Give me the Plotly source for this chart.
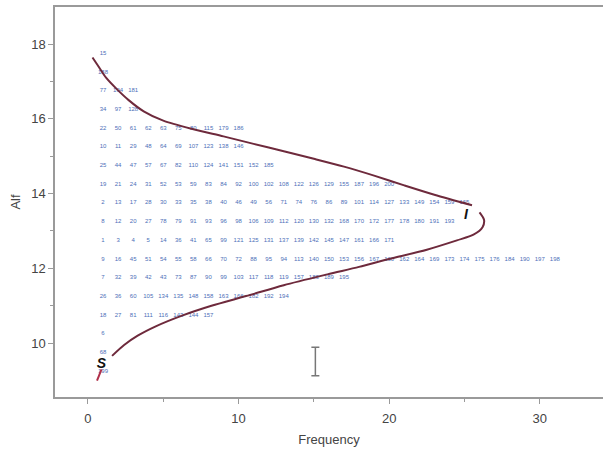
import plotly.graph_objects as go

# Bin centres of "Alf" (bin width 0.5) and the observation IDs stacked in each bin
bin_centres = [17.75, 17.25, 16.75, 16.25, 15.75, 15.25, 14.75, 14.25, 13.75,
               13.25, 12.75, 12.25, 11.75, 11.25, 10.75, 10.25, 9.75, 9.25]
bin_ids = [
    [15],
    [188],
    [77, 104, 181],
    [34, 97, 128],
    [22, 50, 61, 62, 63, 75, 80, 115, 179, 186],
    [10, 11, 29, 48, 64, 69, 107, 123, 138, 146],
    [25, 44, 47, 57, 67, 82, 110, 124, 141, 151, 152, 185],
    [19, 21, 24, 31, 52, 53, 59, 83, 84, 92, 100, 102, 108, 122, 126, 129,
     155, 187, 196, 200],
    [2, 13, 17, 28, 30, 33, 35, 38, 40, 46, 49, 56, 71, 74, 76, 86, 89, 101,
     114, 127, 133, 149, 154, 159, 165],
    [8, 12, 20, 27, 78, 79, 91, 93, 96, 98, 106, 109, 112, 120, 130, 132, 168,
     170, 172, 177, 178, 180, 191, 193],
    [1, 3, 4, 5, 14, 36, 41, 65, 99, 121, 125, 131, 137, 139, 142, 145, 147,
     161, 166, 171],
    [9, 16, 45, 51, 54, 55, 58, 66, 70, 72, 88, 95, 94, 113, 140, 150, 153,
     156, 167, 160, 162, 164, 169, 173, 174, 175, 176, 184, 190, 197, 198],
    [7, 32, 39, 42, 43, 73, 87, 90, 99, 103, 117, 118, 119, 157, 183, 189, 195],
    [26, 36, 60, 105, 134, 135, 148, 158, 163, 166, 182, 192, 194],
    [18, 27, 81, 111, 116, 143, 144, 157],
    [6],
    [68],
    [199],
]

# Fitted density curve, upper and lower branches (Frequency, Alf)
curve_top_x = [0.3, 0.7, 1.2, 1.9, 2.7, 3.7, 5.0, 7.0, 9.0, 11.0, 13.0, 15.0,
               17.0, 19.0, 21.0, 23.0, 25.5]
curve_top_y = [17.64, 17.4, 17.1, 16.8, 16.5, 16.2, 15.95, 15.72, 15.53, 15.33,
               15.13, 14.93, 14.72, 14.48, 14.22, 13.97, 13.69]
curve_bot_x = [26.0, 26.3, 26.2, 25.6, 24.5, 22.5, 20.0, 18.0, 15.9, 13.0, 10.5,
               8.2, 6.2, 4.5, 3.3, 2.4, 1.6]
curve_bot_y = [13.5, 13.3, 13.1, 12.9, 12.75, 12.5, 12.25, 12.04, 11.84, 11.55,
               11.26, 11.0, 10.73, 10.45, 10.2, 9.95, 9.66]
tail_x = [0.6, 0.9]
tail_y = [9.0, 9.3]

# Error bar
err_x = [15.1]
err_mid = [9.51]
err_half = [0.38]

# Labels on the curve
label_text = ["S", "I"]
label_x = [0.9, 25.1]
label_y = [9.42, 13.42]

x_ticks = [0, 10, 20, 30]
y_ticks = [10, 12, 14, 16, 18]

ID_BLUE = "#4d6fb8"
CURVE = "#6e2a3c"
AXIS = "#9a9a9a"
TXT = "#444444"

fig = go.Figure()

xs, ys, ts = [], [], []
for yc, ids in zip(bin_centres, bin_ids):
    for k, v in enumerate(ids, start=1):
        xs.append(k)
        ys.append(yc)
        ts.append(str(v))

fig.add_trace(go.Scatter(
    x=xs, y=ys, text=ts, mode="text",
    textfont=dict(family="Liberation Sans, Arial, sans-serif", size=6, color=ID_BLUE),
    hoverinfo="skip", showlegend=False,
))

for cx, cy in [(curve_top_x, curve_top_y), (curve_bot_x, curve_bot_y)]:
    fig.add_trace(go.Scatter(
        x=cx, y=cy, mode="lines",
        line=dict(color=CURVE, width=2, shape="spline", smoothing=0.8),
        hoverinfo="skip", showlegend=False,
    ))
fig.add_trace(go.Scatter(
    x=tail_x, y=tail_y, mode="lines",
    line=dict(color="#b0304a", width=2),
    hoverinfo="skip", showlegend=False,
))

fig.add_trace(go.Scatter(
    x=err_x, y=err_mid, mode="markers",
    marker=dict(size=1, color="rgba(0,0,0,0)"),
    error_y=dict(type="data", array=err_half, color="#777777", thickness=1.5, width=4),
    hoverinfo="skip", showlegend=False,
))

fig.add_trace(go.Scatter(
    x=label_x, y=label_y, text=label_text, mode="text",
    textfont=dict(family="Liberation Sans, Arial, sans-serif", size=14, color="#111111"),
    texttemplate="<b><i>%{text}</i></b>",
    hoverinfo="skip", showlegend=False,
))

fig.update_layout(
    width=603, height=454,
    margin=dict(l=55, r=0, t=7, b=57),
    paper_bgcolor="white", plot_bgcolor="white",
    font=dict(family="Liberation Sans, Arial, sans-serif", color=TXT),
)
fig.update_xaxes(
    range=[-2.19, 34.2], tickvals=x_ticks, ticks="outside", ticklen=5,
    tickcolor=AXIS, tickfont=dict(size=13, color=TXT), ticklabelstandoff=4,
    minor=dict(tickvals=[5, 15, 25], ticks="outside", ticklen=3, tickcolor=AXIS),
    showgrid=False, zeroline=False, showline=True, linecolor=AXIS, linewidth=1.5,
    mirror=True,
    title=dict(text="Frequency", font=dict(size=13, color=TXT), standoff=10),
)
fig.update_yaxes(
    range=[8.56, 18.99], tickvals=y_ticks, ticks="outside", ticklen=5,
    tickcolor=AXIS, tickfont=dict(size=13, color=TXT),
    minor=dict(tickvals=[11, 13, 15, 17], ticks="outside", ticklen=3, tickcolor=AXIS),
    showgrid=False, zeroline=False, showline=True, linecolor=AXIS, linewidth=1.5,
    title=dict(text="Alf", font=dict(size=13, color=TXT), standoff=8),
)

fig.write_html("out.html")
